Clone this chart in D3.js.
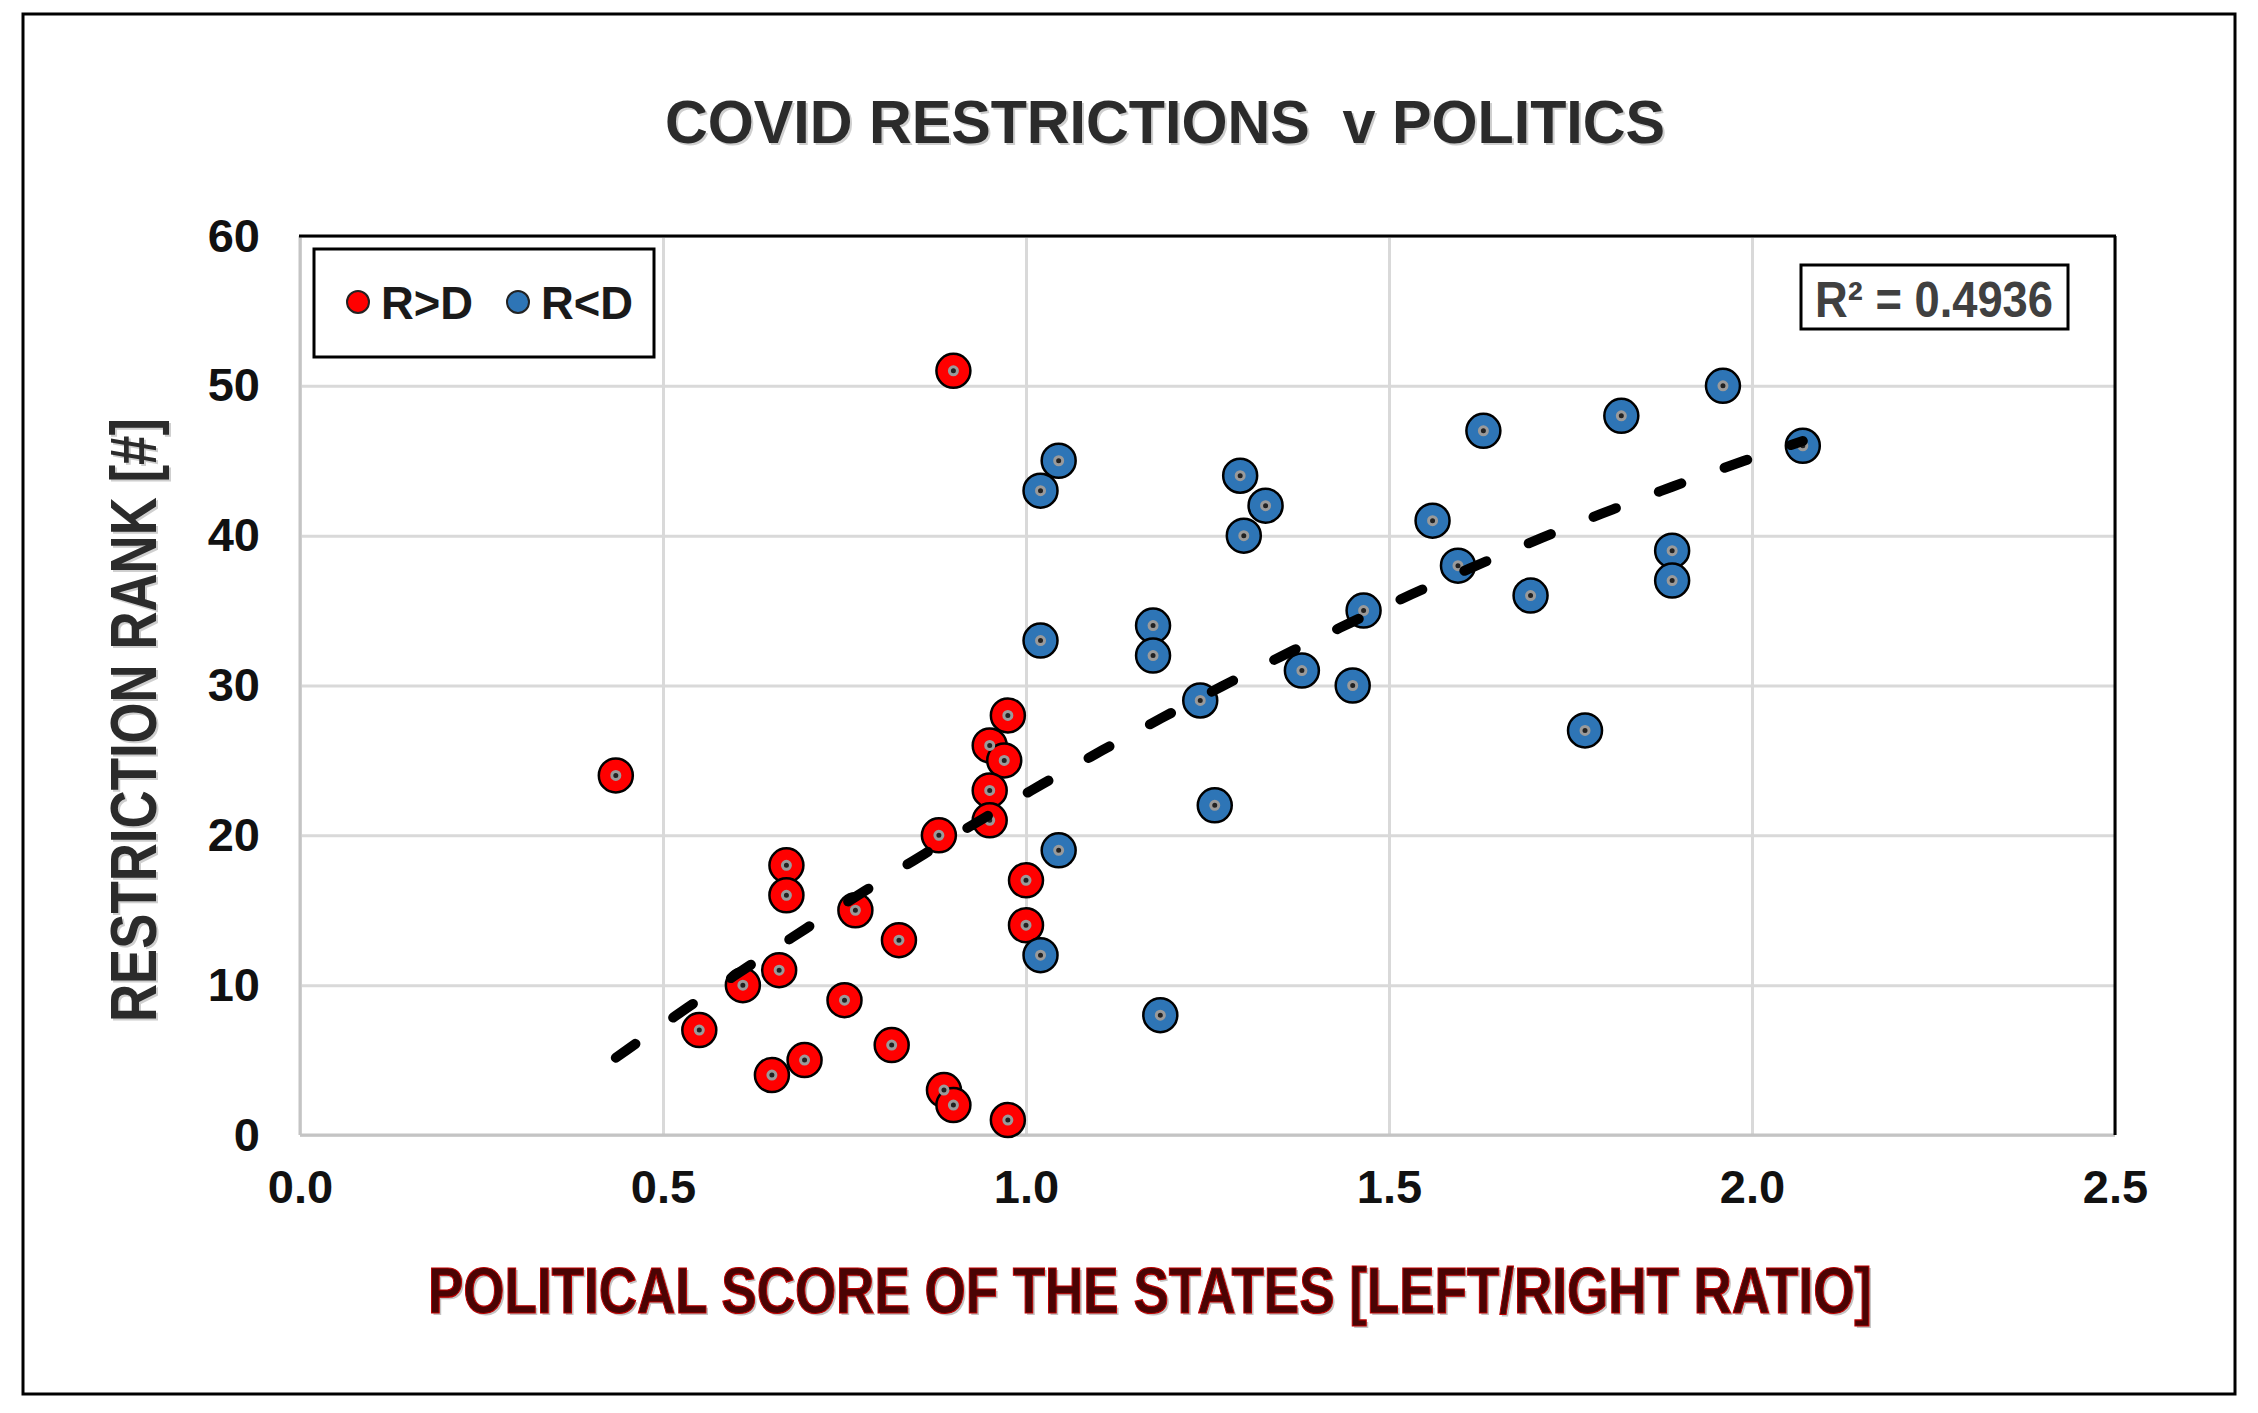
<!DOCTYPE html>
<html>
<head>
<meta charset="utf-8">
<script src="https://cdn.jsdelivr.net/npm/d3@7"></script>
<style>
body { margin: 0; background: #fff; }
text { font-family: "Liberation Sans", Arial, sans-serif; font-weight: bold; }
</style>
</head>
<body>
<script>
const width = 2258
const height = 1413

// R>D states (red)
const redX = [0.435, 0.90, 0.975, 0.95, 0.97, 0.95, 0.95, 0.88, 0.67, 0.67, 0.765, 0.825, 1.0, 1.0, 0.61, 0.66, 0.75, 0.55, 0.815, 0.695, 0.65, 0.887, 0.90, 0.975]
const redY = [24, 51, 28, 26, 25, 23, 21, 20, 18, 16, 15, 13, 17, 14, 10, 11, 9, 7, 6, 5, 4, 3, 2, 1]

// R<D states (blue)
const blueX = [1.96, 1.82, 1.63, 2.07, 1.045, 1.02, 1.295, 1.33, 1.30, 1.56, 1.595, 1.89, 1.89, 1.695, 1.465, 1.175, 1.175, 1.02, 1.38, 1.45, 1.24, 1.77, 1.26, 1.045, 1.02, 1.185]
const blueY = [50, 48, 47, 46, 45, 43, 44, 42, 40, 41, 38, 39, 37, 36, 35, 34, 32, 33, 31, 30, 29, 27, 22, 19, 12, 8]

const xTicks = [0, 0.5, 1.0, 1.5, 2.0, 2.5]
const yTicks = [0, 10, 20, 30, 40, 50, 60]
const seriesNames = ['R>D', 'R<D']
const seriesColors = ['#ff0000', '#2e75b6']
const rSquaredLabel = 'R² = 0.4936'

const plot = {left: 300, right: 2115, top: 236, bottom: 1135}

const x = d3.scaleLinear().domain([0, 2.5]).range([plot.left, plot.right])
const y = d3.scaleLinear().domain([0, 60]).range([plot.bottom, plot.top])

// polynomial (order 2) least squares trendline over all points
function quadFit(xs, ys) {
    let s = [0, 0, 0, 0, 0], t = [0, 0, 0]
    xs.forEach((xv, i) => {
        let p = 1
        for (let k = 0; k < 5; k++) { s[k] += p; p *= xv }
        t[0] += ys[i]; t[1] += ys[i] * xv; t[2] += ys[i] * xv * xv
    })
    let m = [[s[0], s[1], s[2], t[0]], [s[1], s[2], s[3], t[1]], [s[2], s[3], s[4], t[2]]]
    for (let c = 0; c < 3; c++) {
        for (let r = c + 1; r < 3; r++) {
            let f = m[r][c] / m[c][c]
            for (let k = c; k < 4; k++) m[r][k] -= f * m[c][k]
        }
    }
    let coef = [0, 0, 0]
    for (let r = 2; r >= 0; r--) {
        let v = m[r][3]
        for (let k = r + 1; k < 3; k++) v -= m[r][k] * coef[k]
        coef[r] = v / m[r][r]
    }
    return coef
}
const allX = redX.concat(blueX)
const allY = redY.concat(blueY)
const coef = quadFit(allX, allY)
const trendPts = d3.range(0, 101).map(i => {
    let xv = d3.min(allX) + (d3.max(allX) - d3.min(allX)) * i / 100
    return [xv, coef[0] + coef[1] * xv + coef[2] * xv * xv]
})

var svg = d3.select('body').append('svg')
    .attr('width', width)
    .attr('height', height)

svg.append('rect').attr('width', width).attr('height', height).style('fill', 'white')

// outer frame
svg.append('rect')
    .attr('x', 23).attr('y', 14)
    .attr('width', 2212).attr('height', 1380)
    .style('fill', 'none').style('stroke', '#000').style('stroke-width', 3)

// Title
svg.append('text')
    .attr('x', 1167).attr('y', 145)
    .attr('text-anchor', 'middle')
    .attr('textLength', 1000).attr('lengthAdjust', 'spacingAndGlyphs')
    .style('font-size', '62px').style('fill', '#cfcfcf').style('white-space', 'pre')
    .text('COVID RESTRICTIONS  v POLITICS')
svg.append('text')
    .attr('x', 1165).attr('y', 143)
    .attr('text-anchor', 'middle')
    .attr('textLength', 1000).attr('lengthAdjust', 'spacingAndGlyphs')
    .style('font-size', '62px').style('fill', '#2b2b2b').style('white-space', 'pre')
    .text('COVID RESTRICTIONS  v POLITICS')

// Gridlines
svg.append('g')
    .attr('transform', `translate(0,${plot.bottom})`)
    .call(d3.axisBottom(x).tickValues(xTicks).tickSize(-(plot.bottom - plot.top)).tickFormat(''))
    .call(g => g.select('.domain').remove())
    .selectAll('line').style('stroke', '#d9d9d9').style('stroke-width', 3)
svg.append('g')
    .attr('transform', `translate(${plot.left},0)`)
    .call(d3.axisLeft(y).tickValues(yTicks).tickSize(-(plot.right - plot.left)).tickFormat(''))
    .call(g => g.select('.domain').remove())
    .selectAll('line').style('stroke', '#d9d9d9').style('stroke-width', 3)

// plot frame: gray axes, black top/right
svg.append('line').attr('x1', plot.left).attr('x2', plot.left).attr('y1', plot.top).attr('y2', plot.bottom)
    .style('stroke', '#c4c4c4').style('stroke-width', 3)
svg.append('line').attr('x1', plot.left).attr('x2', plot.right).attr('y1', plot.bottom).attr('y2', plot.bottom)
    .style('stroke', '#c4c4c4').style('stroke-width', 3)
svg.append('line').attr('x1', plot.left - 1).attr('x2', plot.right + 1).attr('y1', plot.top).attr('y2', plot.top)
    .style('stroke', '#000').style('stroke-width', 3)
svg.append('line').attr('x1', plot.right).attr('x2', plot.right).attr('y1', plot.top).attr('y2', plot.bottom)
    .style('stroke', '#000').style('stroke-width', 3)

// Axes labels
let xAxis = svg.append('g')
    .attr('transform', `translate(0,${plot.bottom})`)
    .call(d3.axisBottom(x).tickValues(xTicks).tickSize(0).tickPadding(35).tickFormat(d3.format('.1f')))
xAxis.select('.domain').remove()
xAxis.selectAll('text').style('font-size', '47px').style('fill', '#111')

let yAxis = svg.append('g')
    .attr('transform', `translate(${plot.left},0)`)
    .call(d3.axisLeft(y).tickValues(yTicks).tickSize(0).tickPadding(40))
yAxis.select('.domain').remove()
yAxis.selectAll('text').style('font-size', '47px').style('fill', '#111')

// Y axis title
svg.append('text')
    .attr('transform', 'translate(135,722) rotate(-90)')
    .attr('text-anchor', 'middle').attr('dy', '0.36em')
    .attr('textLength', 604).attr('lengthAdjust', 'spacingAndGlyphs')
    .style('font-size', '64px').style('fill', '#cfcfcf')
    .text('RESTRICTION RANK [#]')
svg.append('text')
    .attr('transform', 'translate(133,720) rotate(-90)')
    .attr('text-anchor', 'middle').attr('dy', '0.36em')
    .attr('textLength', 604).attr('lengthAdjust', 'spacingAndGlyphs')
    .style('font-size', '64px').style('fill', '#2b2b2b')
    .text('RESTRICTION RANK [#]')

// X axis title
svg.append('text')
    .attr('x', 1152).attr('y', 1315)
    .attr('text-anchor', 'middle')
    .attr('textLength', 1444).attr('lengthAdjust', 'spacingAndGlyphs')
    .style('font-size', '64px').style('fill', '#c4c4c4')
    .text('POLITICAL SCORE OF THE STATES [LEFT/RIGHT RATIO]')
svg.append('text')
    .attr('x', 1150).attr('y', 1313)
    .attr('text-anchor', 'middle')
    .attr('textLength', 1444).attr('lengthAdjust', 'spacingAndGlyphs')
    .style('font-size', '64px').style('fill', '#4a0404')
    .style('stroke', '#c00000').style('stroke-width', 1.2)
    .text('POLITICAL SCORE OF THE STATES [LEFT/RIGHT RATIO]')

// Points
function drawSeries(xs, ys, color) {
    let g = svg.append('g')
    let pts = xs.map((v, i) => [v, ys[i]])
    g.selectAll('circle.mk').data(pts).enter().append('circle')
        .attr('class', 'mk')
        .attr('cx', d => x(d[0])).attr('cy', d => y(d[1]))
        .attr('r', 17)
        .style('fill', color).style('stroke', '#000').style('stroke-width', 2.5)
    g.selectAll('circle.dot').data(pts).enter().append('circle')
        .attr('class', 'dot')
        .attr('cx', d => x(d[0])).attr('cy', d => y(d[1]))
        .attr('r', 4)
        .style('fill', '#222').style('stroke', '#9a9a9a').style('stroke-width', 3)
}
drawSeries(redX, redY, seriesColors[0])
drawSeries(blueX, blueY, seriesColors[1])

// Trendline
svg.append('path')
    .datum(trendPts)
    .attr('d', d3.line().x(d => x(d[0])).y(d => y(d[1])))
    .style('fill', 'none').style('stroke', '#000').style('stroke-width', 10)
    .style('stroke-dasharray', '24 46').style('stroke-linecap', 'round')

// Legend
svg.append('rect')
    .attr('x', 314).attr('y', 249).attr('width', 340).attr('height', 108)
    .style('fill', 'white').style('stroke', '#000').style('stroke-width', 3)
let legX = [358, 518]
seriesNames.forEach((name, i) => {
    svg.append('circle')
        .attr('cx', legX[i]).attr('cy', 302).attr('r', 11)
        .style('fill', seriesColors[i]).style('stroke', '#222').style('stroke-width', 2)
    svg.append('text')
        .attr('x', legX[i] + 23).attr('y', 319)
        .attr('textLength', 92).attr('lengthAdjust', 'spacingAndGlyphs')
        .style('font-size', '46px').style('fill', '#1a1a1a')
        .text(name)
})

// R squared box
svg.append('rect')
    .attr('x', 1801).attr('y', 265).attr('width', 267).attr('height', 64)
    .style('fill', 'white').style('stroke', '#000').style('stroke-width', 3)
svg.append('text')
    .attr('x', 1815).attr('y', 317)
    .attr('textLength', 238).attr('lengthAdjust', 'spacingAndGlyphs')
    .style('font-size', '50px').style('fill', '#404040')
    .text(rSquaredLabel)
</script>
</body>
</html>
